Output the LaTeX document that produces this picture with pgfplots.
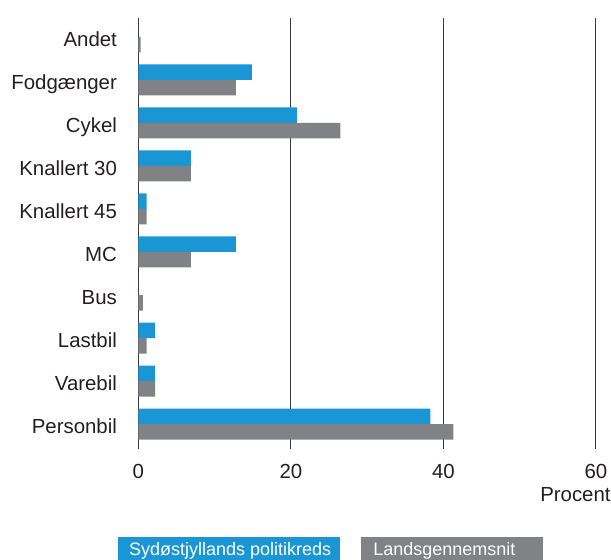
\documentclass[border=0pt]{standalone}
\usepackage{pgfplots}
\pgfplotsset{compat=1.18}
\usepackage{fontspec}
\setmainfont{Liberation Sans}
\definecolor{cblue}{HTML}{1A96D4}
\definecolor{cgray}{HTML}{808285}
\definecolor{ctext}{HTML}{231F20}
\definecolor{cgrid}{HTML}{3A3A3A}
\begin{document}
\begin{tikzpicture}
\begin{axis}[
  at={(69.15pt,55pt)}, anchor=south west,
  scale only axis, width=228.85pt, height=215.5pt,
  xmin=0, xmax=60, ymin=-0.58, ymax=9.44,
  xbar, bar width=7.75pt,
  xtick={0,20,40,60}, ytick={0,...,9},
  yticklabels={Personbil,Varebil,Lastbil,Bus,MC,Knallert 45,Knallert 30,Cykel,Fodgænger,Andet},
  axis line style={draw=none}, major tick length=0pt,
  xmajorgrids, grid style={color=cgrid, line width=0.5pt},
  tick label style={font=\fontsize{10.2}{12}\selectfont, text=ctext},
  /pgf/number format/assume math mode=true,
  yticklabel style={anchor=east, inner sep=0pt, text height=7.3pt, text depth=0pt, xshift=-10.5pt, yshift=-1pt},
  xticklabel style={anchor=north, inner sep=0pt, text height=7.3pt, text depth=0pt, yshift=-7.2pt},
  clip=false,
]
\addplot[fill=cblue, draw=none, bar shift=3.875pt] coordinates {
  (0,9) (14.9,8) (20.8,7) (6.9,6) (1.1,5) (12.8,4) (0,3) (2.2,2) (2.2,1) (38.3,0)};
\addplot[fill=cgray, draw=none, bar shift=-3.875pt] coordinates {
  (0.3,9) (12.8,8) (26.5,7) (6.9,6) (1.1,5) (6.9,4) (0.6,3) (1.1,2) (2.2,1) (41.3,0)};
\node[anchor=east, inner sep=0pt, text height=7.3pt, text depth=0pt, font=\fontsize{10.2}{12}\selectfont, text=ctext]
  at ([xshift=7.5pt,yshift=-22.5pt]rel axis cs:1,0) {Procent};
\end{axis}
\fill[cblue] (59pt,-3pt) rectangle (170pt,11pt);
\node[anchor=base west, inner sep=0pt, text=white, font=\fontsize{9}{11}\selectfont] at (64.3pt,2pt) {Sydøstjyllands politikreds};
\fill[cgray] (180.5pt,-3pt) rectangle (271.5pt,11pt);
\node[anchor=base west, inner sep=0pt, text=white, font=\fontsize{9}{11}\selectfont] at (186.5pt,2pt) {Landsgennemsnit};
\pgfresetboundingbox
\useasboundingbox (0,0) rectangle (305.5pt,279.5pt);
\end{tikzpicture}
\end{document}
